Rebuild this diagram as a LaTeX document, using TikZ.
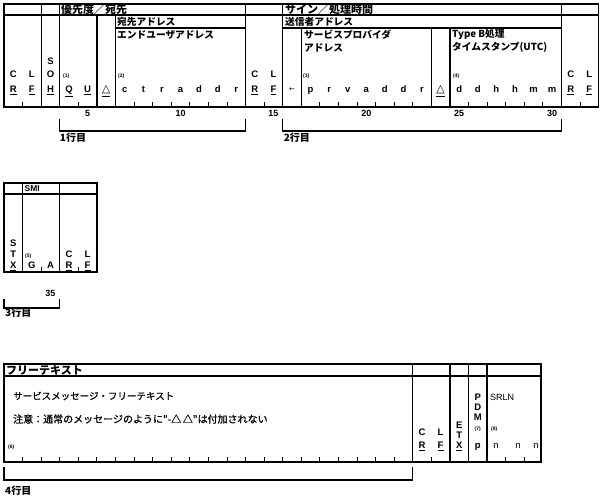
\documentclass[tikz,border=0pt]{standalone}
\usepackage{fontspec}
\setmainfont{Liberation Sans}
\newfontfamily\jp{Noto Sans CJK JP}
\newfontfamily\jpm[FakeBold=1]{Noto Sans CJK JP}
\newfontfamily\dv{DejaVu Sans}
\begin{document}
\begin{tikzpicture}[x=1pt,y=-1pt,
  frame/.style={line width=1.2pt},
  tickmark/.style={line width=0.9pt},
  hdr/.style={anchor=west,inner sep=0pt,font=\jp\bfseries\fontsize{9.7}{10}\selectfont},
  hdrbig/.style={anchor=west,inner sep=0pt,font=\jp\bfseries\fontsize{11}{11}\selectfont},
  ch/.style={anchor=base,inner sep=0pt,font=\bfseries\fontsize{9.5}{10}\selectfont},
  chr/.style={anchor=base,inner sep=0pt,font=\fontsize{9.5}{10}\selectfont},
  tri/.style={anchor=base,inner sep=0pt,font=\dv\bfseries\fontsize{11}{11}\selectfont},
  sm/.style={anchor=base west,inner sep=0pt,font=\bfseries\fontsize{5}{6}\selectfont},
  num/.style={anchor=base,inner sep=0pt,font=\bfseries\fontsize{9}{10}\selectfont},
  lbl/.style={anchor=west,inner sep=0pt,font=\jpm\fontsize{9.5}{10}\selectfont},
  rowlbl/.style={anchor=west,inner sep=0pt,font=\jp\bfseries\fontsize{10}{11}\selectfont},
]
\def\cw{18.58}
\useasboundingbox (0,0) rectangle (600,500);
% ---------------- row 1/2 box ----------------
\draw[frame] (4,4) rectangle ({4+32*\cw},107);
\draw[frame] (4,15) -- ({4+32*\cw},15);
\draw[frame] ({4+6*\cw},28) -- ({4+13*\cw},28);
\draw[frame] ({4+15*\cw},28) -- ({4+30*\cw},28);
\foreach \k in {2,3,13,15,30} \draw[frame] ({4+\k*\cw},4) -- ({4+\k*\cw},107);
\foreach \k in {5,6} \draw[frame] ({4+\k*\cw},15) -- ({4+\k*\cw},107);
\foreach \k in {16,23,24} \draw[frame] ({4+\k*\cw},28) -- ({4+\k*\cw},107);
\node[hdrbig] (h1) at (61,9.7) {優先度／宛先};
\node[hdr] (h2) at (117,21.7) {宛先アドレス};
\node[hdr] (h3) at (117,34.5) {エンドユーザアドレス};
\node[hdrbig] (h4) at (285,9.7) {サイン／処理時間};
\node[hdr] (h5) at (285,21.7) {送信者アドレス};
\node[hdr] (h6) at (304,34.5) {サービスプロバイダ};
\node[hdr] (h7) at (304,47.5) {アドレス};
\node[hdr] (h8) at (452,34.5) {Type B処理};
\node[hdr] (h9) at (452,47.5) {タイムスタンプ(UTC)};
% letters
\foreach \k/\t/\y in {1/C/78, 1/\underline{R}/93, 2/L/78, 2/\underline{F}/93,
   3/S/65, 3/O/78, 3/\underline{H}/93, 4/\underline{Q}/93, 5/\underline{U}/93,
   14/C/78, 14/\underline{R}/93, 15/L/78, 15/\underline{F}/93,
   31/C/78, 31/\underline{R}/93, 32/L/78, 32/\underline{F}/93}
  \node[ch] at ({4+(\k-0.5)*\cw},\y) {\t};
\foreach \k/\t in {7/c,8/t,9/r,10/a,11/d,12/d,13/r,17/p,18/r,19/v,20/a,21/d,22/d,23/r,
   25/d,26/d,27/h,28/h,29/m,30/m}
  \node[ch] at ({4+(\k-0.5)*\cw},92.5) {\t};
\node[tri] (t1) at ({4+5.5*\cw},93) {\underline{△}};
\node[tri] (t2) at ({4+23.5*\cw},93) {\underline{△}};
\node[ch,font=\dv\fontsize{7}{8}\selectfont] (ar) at ({4+15.5*\cw},92) {←};
\node[sm] (n1) at (63,78) {(1)};
\node[sm] (n2) at (118,78) {(2)};
\node[sm] (n3) at (303,78) {(3)};
\node[sm] (n4) at (453,78) {(4)};
\foreach \k in {1,4,7,8,...,12,14,17,18,...,22,25,26,...,29,31}
  \draw[tickmark] ({4+\k*\cw},107) -- ({4+\k*\cw},102);
\foreach \n in {5,10,...,30}
  \node[num] at ({4+(\n-0.5)*\cw},116.5) {\n};
% brackets
\draw[frame] ({4+3*\cw},119) -- ({4+3*\cw},131) -- ({4+13*\cw},131) -- ({4+13*\cw},119);
\node[rowlbl] (r1) at ({4+3*\cw},138) {1行目};
\draw[frame] ({4+15*\cw},119) -- ({4+15*\cw},131) -- ({4+30*\cw},131) -- ({4+30*\cw},119);
\node[rowlbl] (r2) at ({4+15*\cw+1},138) {2行目};
% ---------------- row 3 box ----------------
\draw[frame] (4,183) rectangle ({4+5*\cw},272);
\draw[frame] (4,194) -- ({4+5*\cw},194);
\foreach \k in {1,3} \draw[frame] ({4+\k*\cw},183) -- ({4+\k*\cw},272);
\node[anchor=west,inner sep=0pt,font=\bfseries\fontsize{8.5}{9}\selectfont] (smi) at (24.5,188.7) {SMI};
\foreach \k/\t/\y in {1/S/246.5, 1/T/257.5, 1/\underline{X}/268.5, 2/G/268.5, 3/A/268.5,
   4/C/257.5, 4/\underline{R}/268.5, 5/L/257.5, 5/\underline{F}/268.5}
  \node[ch] at ({4+(\k-0.5)*\cw},\y) {\t};
\node[sm] (n5) at (25,257) {(5)};
\foreach \k in {2,4} \draw[tickmark] ({4+\k*\cw},272) -- ({4+\k*\cw},267);
\node[num] (n35) at ({4+2.5*\cw},296.5) {35};
\draw[frame] (4,299) -- (4,308) -- ({4+3*\cw},308) -- ({4+3*\cw},299);
\node[rowlbl] (r3) at (5,313) {3行目};
% ---------------- row 4 box ----------------
\draw[frame] (4,364) rectangle (541,462);
\draw[frame] (4,376) -- (541,376);
\foreach \k in {22,24,25,26} \draw[frame] ({4+\k*\cw},364) -- ({4+\k*\cw},462);
\node[hdrbig] (h10) at (6,370) {フリーテキスト};
\node[lbl] (b1) at (13,396) {サービスメッセージ・フリーテキスト};
\node[lbl,font=\jpm\fontsize{10}{10}\selectfont] (b2) at (13,419) {注意：通常のメッセージのように"-△\,△"は付加されない};
\node[sm] (n6) at (8,448) {(6)};
\foreach \k in {1,2,...,21,23,27,28}
  \draw[tickmark] ({4+\k*\cw},462) -- ({4+\k*\cw},457);
\foreach \k/\t/\y in {23/C/435.5, 23/\underline{R}/448.5, 24/L/435.5, 24/\underline{F}/448.5,
   25/E/428.5, 25/T/438.5, 25/\underline{X}/448.5,
   26/P/400.5, 26/D/410.5, 26/M/420.5, 26/p/448}
  \node[ch] at ({4+(\k-0.5)*\cw},\y) {\t};
\node[sm,anchor=base] (n7) at ({4+25.5*\cw},430) {(7)};
\node[anchor=west,inner sep=0pt,font=\fontsize{9}{10}\selectfont] (srln) at (490,397) {SRLN};
\node[sm] (n8) at (491,430) {(8)};
\foreach \x in {496,518,536}
  \node[chr] at (\x,448) {n};
\draw[frame] (4,467) -- (4,480) -- ({4+22*\cw},480) -- ({4+22*\cw},467);
\node[rowlbl] (r4) at (5,491) {4行目};
\end{tikzpicture}
\end{document}
